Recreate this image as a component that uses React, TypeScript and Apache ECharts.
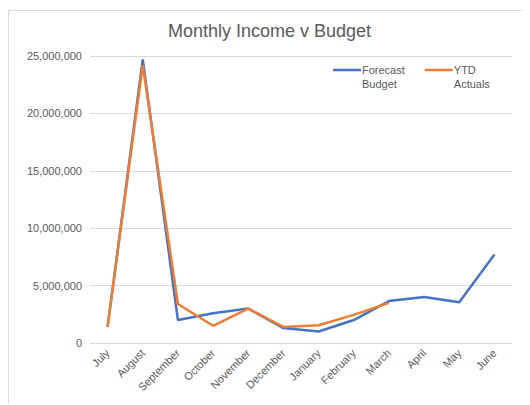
import React, { useEffect, useRef } from "react";
import * as echarts from "echarts";

const months = ["July", "August", "September", "October", "November", "December", "January", "February", "March", "April", "May", "June"];
const forecastBudget = [1400000, 24700000, 2000000, 2600000, 3000000, 1300000, 1000000, 2000000, 3650000, 4000000, 3550000, 7700000];
const ytdActuals: (number | null)[] = [1400000, 24200000, 3400000, 1500000, 3000000, 1400000, 1550000, 2450000, 3500000, null, null, null];
const yTicks = { min: 0, max: 25000000, interval: 5000000 };

const FONT = "'Liberation Sans', Arial, sans-serif";

export default function App() {
  const ref = useRef<HTMLDivElement>(null);
  useEffect(() => {
    if (!ref.current) return;
    const chart = echarts.init(ref.current, undefined, { renderer: "svg" });
    chart.setOption({
      animation: false,
      textStyle: { fontFamily: FONT },
      title: {
        text: "Monthly Income v Budget",
        left: "center",
        top: 6,
        textStyle: { fontSize: 18, fontWeight: "normal", color: "#595959", fontFamily: FONT },
      },
      legend: {
        left: 319,
        top: 33,
        icon: "rect",
        itemWidth: 28,
        itemHeight: 2.5,
        itemGap: 20,
        formatter: (name: string) => "\n" + name.split(" ").join("\n"),
        textStyle: { fontSize: 11, color: "#595959", lineHeight: 14, fontFamily: FONT, padding: [0, 0, 0, -4] },
        data: ["Forecast Budget", "YTD Actuals"],
      },
      grid: { left: 81, top: 45, width: 422, height: 287 },
      xAxis: {
        type: "category",
        data: months,
        boundaryGap: true,
        axisLine: { show: false },
        axisTick: { show: false },
        axisLabel: { rotate: 45, fontSize: 11, color: "#595959", margin: 8, interval: 0 },
      },
      yAxis: {
        type: "value",
        min: yTicks.min,
        max: yTicks.max,
        interval: yTicks.interval,
        axisLine: { show: false },
        axisTick: { show: false },
        splitLine: { lineStyle: { color: "#d9d9d9", width: 1 } },
        axisLabel: {
          fontSize: 11,
          color: "#595959",
          margin: 8,
          formatter: (v: number) => v.toLocaleString("en-US"),
        },
      },
      series: [
        {
          name: "Forecast Budget",
          type: "line",
          data: forecastBudget,
          symbol: "none",
          lineStyle: { color: "#4472C4", width: 2.5 },
          itemStyle: { color: "#4472C4" },
        },
        {
          name: "YTD Actuals",
          type: "line",
          data: ytdActuals,
          symbol: "none",
          lineStyle: { color: "#ED7D31", width: 2.5 },
          itemStyle: { color: "#ED7D31" },
        },
      ],
    });
    return () => chart.dispose();
  }, []);
  return (
    <div
      style={{
        position: "relative",
        top: 2,
        width: 522,
        height: 395,
        borderLeft: "1px solid #d9d9d9",
        borderTop: "1px solid #d9d9d9",
        boxSizing: "border-box",
        overflow: "hidden",
      }}
    >
      <div ref={ref} style={{ width: 521, height: 394 }} />
    </div>
  );
}
